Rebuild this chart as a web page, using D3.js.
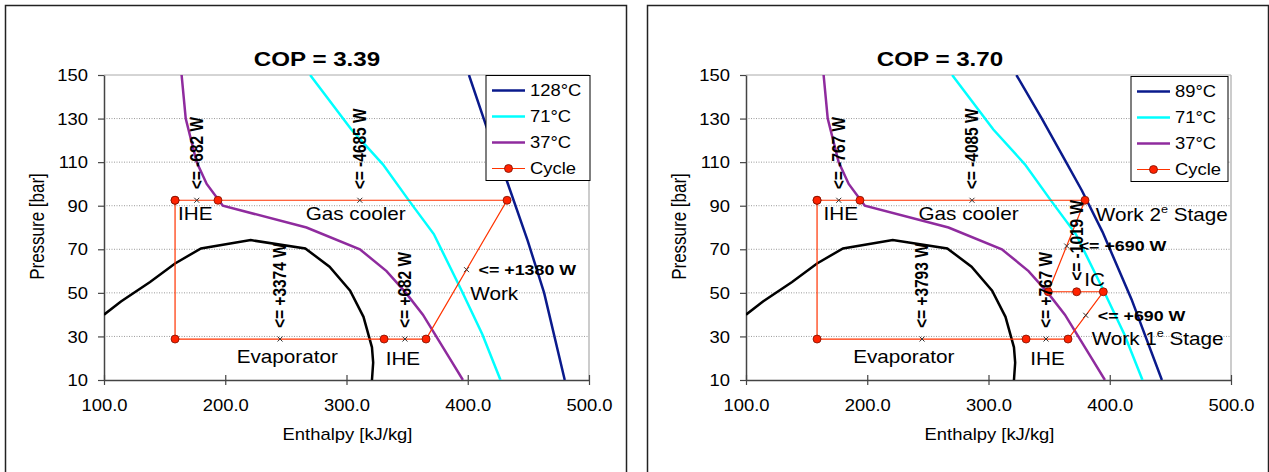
<!DOCTYPE html>
<html>
<head>
<meta charset="utf-8">
<script src="https://cdn.jsdelivr.net/npm/d3@7"></script>
<style>body{margin:0;background:#fff}</style>
</head>
<body>
<svg width="1269" height="472"></svg>
<script>
// axis ticks
const enthalpyTicks = [100, 200, 300, 400, 500];
const pressureTicks = [10, 30, 50, 70, 90, 110, 130, 150];

// saturation dome [h kJ/kg, p bar]
const dome = [[100, 40], [114, 46], [138, 55], [158.6, 63.5], [180, 70.4], [221, 74.2], [266, 70.4],
  [286, 62], [303, 51], [314, 39], [321, 25], [322, 18], [321, 10]];

// isotherms
const iso37 = [[164, 150], [167.4, 130], [176.4, 110], [184.7, 100], [198, 90], [267, 80], [311, 70],
  [333, 60], [349, 50], [363, 40], [374, 30], [385, 20], [396, 10]];
const iso71 = [[270, 150], [304, 125], [330, 109], [352, 92], [372, 77], [395, 51], [412, 31], [427, 10]];
const iso128 = [[401, 150], [415.6, 126], [432.5, 101], [449.4, 74], [463, 50], [480, 10]];
const iso89 = [[323, 150], [344, 130], [364, 110], [377, 97], [394, 78], [418, 47], [443, 10]];

// cycles
const cycleA = [[158.6, 92.5], [158.6, 28.8], [331, 28.8], [365.6, 28.8], [432.4, 92.5], [194, 92.5], [158.6, 92.5]];
const cycleB = [[158.6, 92.5], [158.6, 28.8], [331, 28.8], [365.6, 28.8], [394.7, 50.5], [372.7, 50.5],
  [349.3, 50.5], [379.6, 92.5], [194, 92.5], [158.6, 92.5]];

// small x markers
const crossA = [[176.5, 92.5], [311, 92.5], [245.2, 28.8], [348.2, 28.8], [399, 60.65]];
const crossB = [[176.5, 92.5], [286.4, 92.5], [245.2, 28.8], [347.4, 28.8], [364.5, 71.5], [380.2, 39.7]];

// heat flows (vertical text) and work (horizontal text)
const dutyA = [[176.5, 92.5, "<= -682 W"], [311, 92.5, "<= -4685 W"], [245.2, 28.8, "<= +3374 W"], [348.2, 28.8, "<= +682 W"]];
const dutyB = [[176.5, 92.5, "<= -767 W"], [286.4, 92.5, "<= -4085 W"], [245.2, 28.8, "<= +3793 W"],
  [347.4, 28.8, "<= +767 W"], [372.7, 50.5, "<= -1019 W"]];
const workA = [[399, 60.65, "<= +1380 W"]];
const workB = [[364.5, 71.5, "<= +690 W"], [380.2, 39.7, "<= +690 W"]];

// component names [h, p, text, superscript, rest]
const namesA = [[161, 83.3, "IHE"], [266.3, 83.3, "Gas cooler"], [209.4, 18, "Evaporator"],
  [332.3, 16.9, "IHE"], [402.1, 46.7, "Work"]];
const namesB = [[164, 83.3, "IHE"], [242.3, 83.3, "Gas cooler"], [188.4, 18, "Evaporator"],
  [334.5, 16.9, "IHE"], [388.5, 83, "Work 2", "e", " Stage"], [379, 53.2, "IC"], [385.1, 26.1, "Work 1", "e", " Stage"]];

const legendA = ["128°C", "71°C", "37°C", "Cycle"];
const legendB = ["89°C", "71°C", "37°C", "Cycle"];

const NAVY = "#0a1a8c", CYAN = "#00ffff", PURPLE = "#8f2b9e", RED = "#ff3300";
const FONT = "'Liberation Sans', Arial, sans-serif";
const SX = 1.15; // the original picture is a bit stretched sideways

const svg = d3.select("svg");

function txt(g, x, y, str, size, o = {}) {
  return g.append("text")
    .attr("transform", `translate(${x},${y}) scale(${SX},1)` + (o.rot ? " rotate(-90)" : ""))
    .attr("font-family", FONT)
    .attr("font-size", size)
    .attr("font-weight", o.bold ? "bold" : null)
    .attr("text-anchor", o.anchor || "start")
    .attr("dy", o.dy || null)
    .attr("fill", "#000")
    .text(str);
}

function drawPanel(p) {
  const g = svg.append("g").attr("transform", `translate(${p.ox},0)`);

  g.append("rect")
    .attr("x", 5.5).attr("y", 5.5).attr("width", 621).attr("height", 500)
    .attr("fill", "none").attr("stroke", "#222").attr("stroke-width", 1.5);

  const x = d3.scaleLinear().domain([100, 500]).range([104, 589]);
  const y = d3.scaleLinear().domain([10, 150]).range([380, 75]);

  // grid
  g.selectAll(".grid")
    .data(pressureTicks.filter(d => d > 10 && d < 150))
    .enter().append("line")
    .attr("x1", x(100)).attr("x2", x(500))
    .attr("y1", d => y(d)).attr("y2", d => y(d))
    .attr("stroke", "#9a9a9a").attr("stroke-dasharray", "1,1.5");
  g.append("line").attr("x1", x(100)).attr("x2", x(500)).attr("y1", y(150)).attr("y2", y(150))
    .attr("stroke", "#aaa");
  g.append("line").attr("x1", x(500)).attr("x2", x(500)).attr("y1", y(150)).attr("y2", y(10))
    .attr("stroke", "#bbb").attr("stroke-width", 1.5);

  // axes
  const yAxis = g.append("g").attr("transform", `translate(${x(100)},0)`)
    .call(d3.axisLeft(y).tickValues(pressureTicks).tickSize(6).tickSizeOuter(0).tickFormat(d3.format("d")));
  const xAxis = g.append("g").attr("transform", `translate(0,${y(10)})`)
    .call(d3.axisBottom(x).tickValues(enthalpyTicks).tickSize(5).tickSizeOuter(0).tickFormat(d3.format(".1f")));
  [yAxis, xAxis].forEach(a => {
    a.attr("font-family", FONT).attr("font-size", 16);
    a.select(".domain").attr("stroke", "#444").attr("stroke-width", 1.5);
    a.selectAll(".tick line").attr("stroke", "#444").attr("stroke-width", 1.2);
    a.selectAll("text").attr("fill", "#000");
  });
  yAxis.selectAll("text").attr("x", -16 / SX).attr("dy", "0.35em").attr("transform", `scale(${SX},1)`);
  xAxis.selectAll(".tick line").attr("y1", -5).attr("y2", 5);
  xAxis.selectAll("text").attr("y", 31.5).attr("dy", 0).attr("transform", `scale(${SX},1)`);

  txt(g, 347.5, 440, "Enthalpy [kJ/kg]", 16, { anchor: "middle" });
  txt(g, 43.5, 226.5, "Pressure [bar]", 17, { anchor: "middle", rot: true });
  txt(g, p.titleX, 66, p.title, 21, { anchor: "middle", bold: true });

  // curves
  g.append("clipPath").attr("id", p.clip)
    .append("rect").attr("x", x(100)).attr("y", y(150)).attr("width", x(500) - x(100)).attr("height", y(10) - y(150));
  const line = d3.line().x(d => x(d[0])).y(d => y(d[1]));
  const curves = g.append("g").attr("clip-path", `url(#${p.clip})`);
  curves.append("path").attr("d", line(dome)).attr("fill", "none").attr("stroke", "#000").attr("stroke-width", 2.5);
  p.isos.forEach((c, i) => {
    curves.append("path").attr("d", line(c)).attr("fill", "none")
      .attr("stroke", p.colors[i]).attr("stroke-width", 2.5);
  });

  // cycle
  g.append("path").attr("d", line(p.cycle)).attr("fill", "none")
    .attr("stroke", RED).attr("stroke-width", 1.2);
  g.selectAll(".pt").data(p.cycle).enter().append("circle")
    .attr("cx", d => x(d[0])).attr("cy", d => y(d[1])).attr("r", 4)
    .attr("fill", "#ff2200").attr("stroke", "#7a1000").attr("stroke-width", 0.8);
  g.selectAll(".cross").data(p.cross).enter().append("path")
    .attr("transform", d => `translate(${x(d[0])},${y(d[1])})`)
    .attr("d", "M-2.5,-2.5L2.5,2.5M-2.5,2.5L2.5,-2.5")
    .attr("stroke", "#333").attr("stroke-width", 1);

  // labels
  p.duty.forEach(d => txt(g, x(d[0]), y(d[1]) - 11, d[2], 15.5, { bold: true, rot: true, dy: "0.35em" }));
  p.work.forEach(d => txt(g, x(d[0]) + 12, y(d[1]), d[2], 15.5, { bold: true, dy: "0.35em" }));
  p.names.forEach(d => {
    const t = txt(g, x(d[0]), y(d[1]), d[2], 18);
    if (d[3]) {
      t.append("tspan").attr("font-size", 11).attr("dy", -8).text(d[3]);
      t.append("tspan").attr("dy", 8).text(d[4]);
    }
  });

  // legend
  const lg = g.append("g").attr("transform", `translate(${p.legX},${p.legY})`);
  lg.append("rect").attr("width", p.legW).attr("height", 105)
    .attr("fill", "#fff").attr("stroke", "#000").attr("stroke-width", 1);
  p.legend.forEach((name, i) => {
    const ry = 15 + i * 26;
    const isCycle = i === p.legend.length - 1;
    lg.append("line").attr("x1", 6).attr("x2", 39).attr("y1", ry).attr("y2", ry)
      .attr("stroke", isCycle ? RED : p.colors[i]).attr("stroke-width", isCycle ? 1.2 : 2.5);
    if (isCycle) {
      lg.append("circle").attr("cx", 22.5).attr("cy", ry).attr("r", 4)
        .attr("fill", "#ff2200").attr("stroke", "#7a1000").attr("stroke-width", 0.8);
    }
    txt(lg, 44, ry, name, 16, { dy: "0.35em" });
  });
}

drawPanel({
  ox: 0, clip: "clipA", title: "COP = 3.39", titleX: 317,
  isos: [iso128, iso71, iso37], colors: [NAVY, CYAN, PURPLE],
  cycle: cycleA, cross: crossA, duty: dutyA, work: workA, names: namesA,
  legend: legendA, legX: 486, legY: 75.5, legW: 104
});
drawPanel({
  ox: 642, clip: "clipB", title: "COP = 3.70", titleX: 298,
  isos: [iso89, iso71, iso37], colors: [NAVY, CYAN, PURPLE],
  cycle: cycleB, cross: crossB, duty: dutyB, work: workB, names: namesB,
  legend: legendB, legX: 489, legY: 76.5, legW: 97
});
</script>
</body>
</html>
